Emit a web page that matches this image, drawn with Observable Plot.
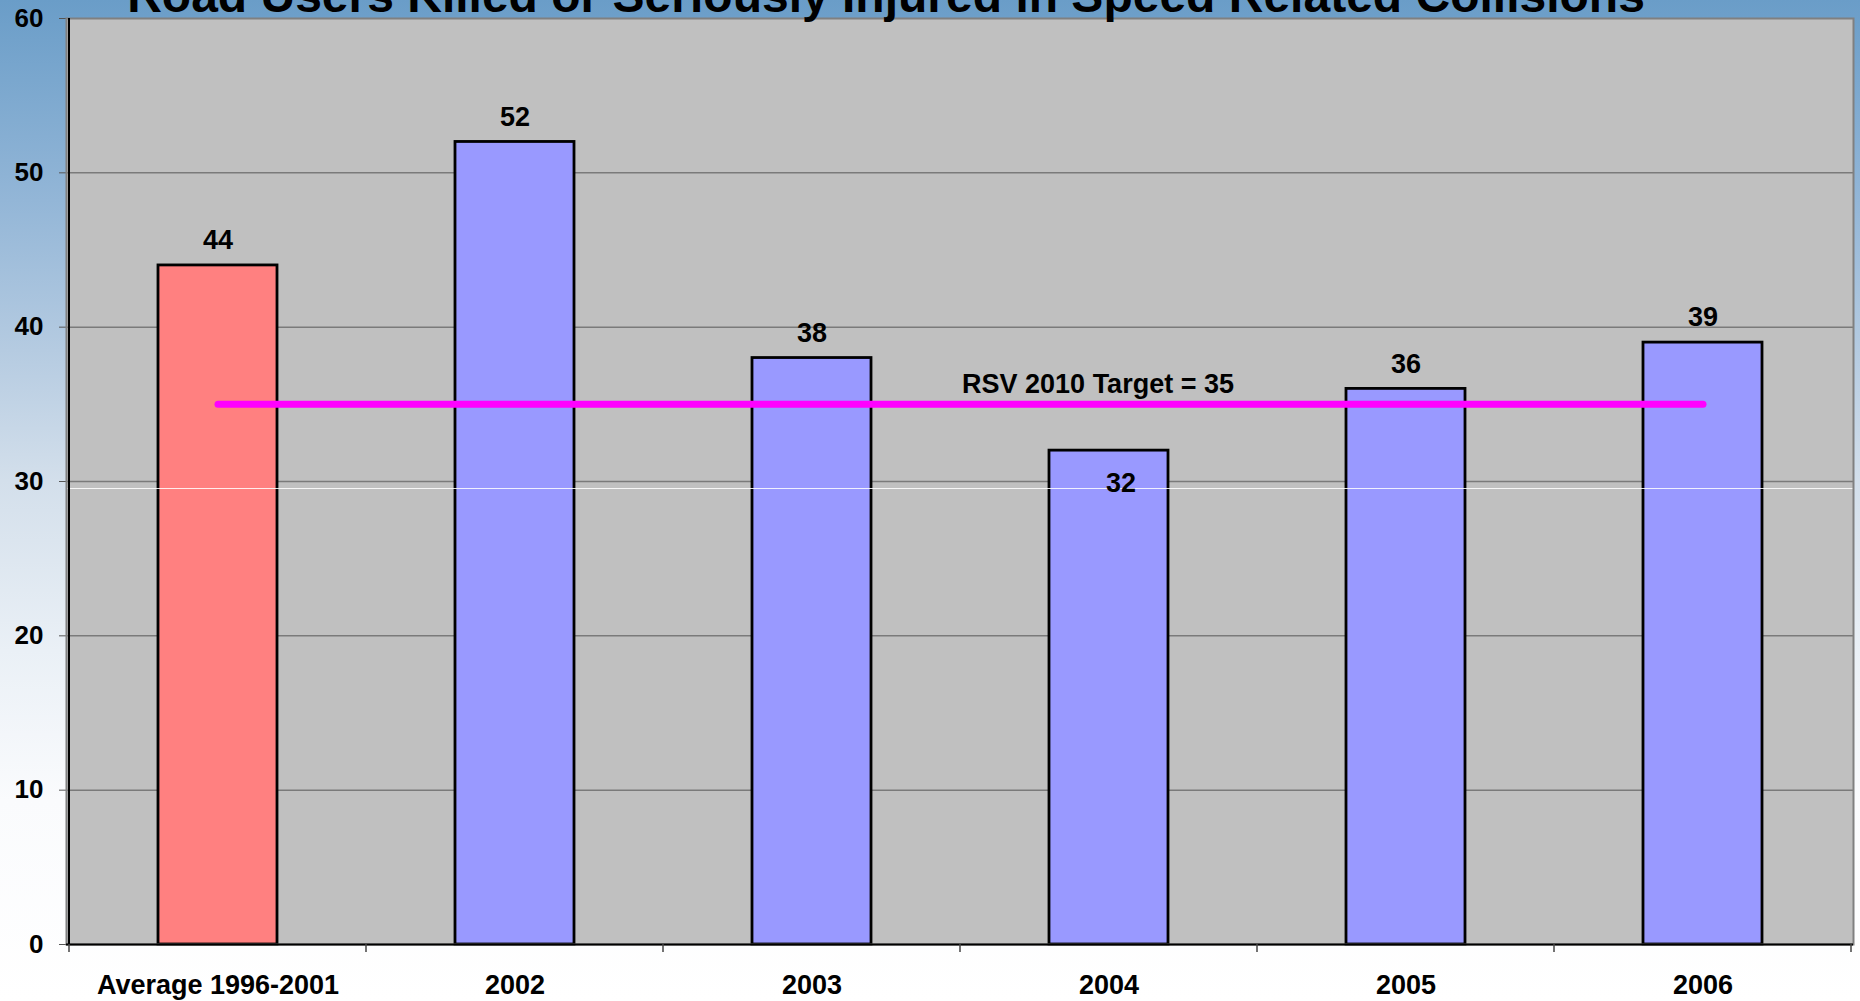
<!DOCTYPE html>
<html><head><meta charset="utf-8">
<script src="https://cdn.jsdelivr.net/npm/d3@7"></script>
<script src="https://cdn.jsdelivr.net/npm/@observablehq/plot@0.6"></script>
<style>
html,body{margin:0;padding:0;}
body{width:1860px;height:1001px;overflow:hidden;position:relative;
background:linear-gradient(to bottom,#6a9dc8 0%,#93b6d7 20%,#b5cbe1 35%,#d3dfeb 48%,#eaf0f6 65%,#fafbfd 80%,#ffffff 100%);
font-family:"Liberation Sans",Arial,sans-serif;}
#title{position:absolute;left:0;width:1772px;top:-28px;text-align:center;font-size:48px;font-weight:bold;line-height:48px;color:#000;white-space:nowrap;}
#chart{position:absolute;left:0;top:0;}
</style></head>
<body>
<div id="chart"></div>
<div id="title">Road Users Killed or Seriously Injured in Speed Related Collisions</div>
<script>
const categories = ["Average 1996-2001", "2002", "2003", "2004", "2005", "2006"];
const values = [44, 52, 38, 32, 36, 39];
const kinds = ["average", "year", "year", "year", "year", "year"];
const target = 35;
const targetLabel = "RSV 2010 Target = 35";
const yTicks = [0, 10, 20, 30, 40, 50, 60];

const data = categories.map((c, i) => ({category: c, value: values[i], kind: kinds[i]}));
const font = '"Liberation Sans", Arial, sans-serif';

const chart = Plot.plot({
  width: 1860, height: 1001,
  marginLeft: 66, marginRight: 7, marginTop: 18, marginBottom: 57,
  style: {background: "transparent", fontFamily: font, fontWeight: "bold", color: "black", overflow: "visible"},
  x: {domain: categories, paddingInner: 0.6, paddingOuter: 0.3, label: null},
  y: {domain: [0, 60], label: null},
  color: {domain: ["average", "year"], range: ["#ff8080", "#9999ff"]},
  marks: [
    Plot.frame({fill: "#c0c0c0"}),
    Plot.gridY(yTicks.slice(1, -1), {stroke: "#7a7a7a", strokeOpacity: 1, strokeWidth: 1.5}),
    Plot.axisY(yTicks, {tickSize: 7, tickPadding: 16, fontSize: 26, fontWeight: "bold", stroke: "#555", fill: "black", label: null}),
    Plot.axisX({tickSize: 0, tickPadding: 30, fontSize: 27, fontWeight: "bold", fill: "black", label: null}),
    Plot.barY(data, {x: "category", y: "value", fill: "kind", stroke: "black", strokeWidth: 2.8}),
    Plot.ruleY([30], {stroke: "white", strokeOpacity: 0.85, strokeWidth: 1, dy: 7}),
    Plot.frame({stroke: "#808080", strokeWidth: 2}),
    Plot.ruleY([0], {stroke: "black", strokeWidth: 2}),
    Plot.lineY(categories, {x: d => d, y: () => target, stroke: "#ff00ff", strokeWidth: 7, strokeLinecap: "round"}),
    Plot.text([targetLabel], {x: () => categories[3], y: () => target, text: d => d, dx: -11, dy: -20, fontSize: 27, fontWeight: "bold", fill: "black"}),
    Plot.text(data.filter(d => d.value >= target), {x: "category", y: "value", text: d => String(d.value), dy: -25, fontSize: 27, fontWeight: "bold", fill: "black"}),
    Plot.text(data.filter(d => d.value < target), {x: "category", y: "value", text: d => String(d.value), dx: 12, dy: 33, fontSize: 27, fontWeight: "bold", fill: "black"})
  ]
});
document.getElementById("chart").appendChild(chart);

// Excel-style category boundary ticks and left axis line, from the Plot scales
const xs = chart.scale("x"), ys = chart.scale("y");
const svg = d3.select(chart);
const gap = (xs.step - xs.bandwidth) / 2;
const bounds = categories.map(c => xs.apply(c) - gap)
  .concat([xs.apply(categories[categories.length - 1]) + xs.bandwidth + gap]);
const y0 = ys.apply(0);
svg.append("g").selectAll("line").data(bounds).join("line")
  .attr("x1", d => d).attr("x2", d => d)
  .attr("y1", y0).attr("y2", y0 + 8)
  .attr("stroke", "#444").attr("stroke-width", 1.5);
svg.append("line")
  .attr("x1", bounds[0]).attr("x2", bounds[0])
  .attr("y1", ys.apply(60)).attr("y2", y0)
  .attr("stroke", "black").attr("stroke-width", 2);
</script>
</body></html>
